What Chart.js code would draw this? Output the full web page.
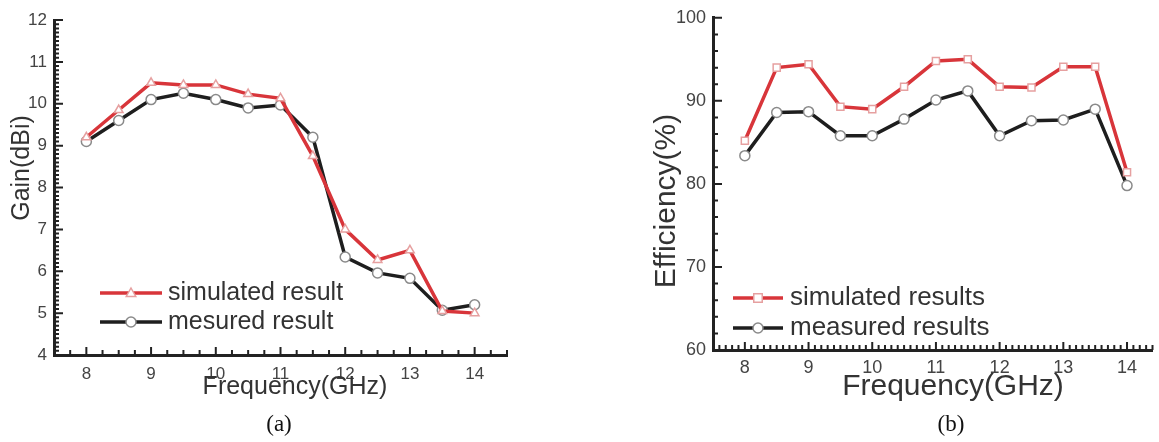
<!DOCTYPE html>
<html>
<head>
<meta charset="utf-8">
<script src="https://cdn.jsdelivr.net/npm/chart.js@4.4.0/dist/chart.umd.min.js"></script>
<style>
  html, body { margin: 0; padding: 0; background: #fff; }
  #wrap { position: relative; width: 1159px; height: 442px; overflow: hidden; }
  canvas { position: absolute; top: 0; }
  #chartA { left: 0; }
  #chartB { left: 600px; }
  .cap { position: absolute; top: 410px; line-height: 28px; font-family: "Liberation Serif", "Times New Roman", serif;
         font-size: 23px; color: #111; transform: translateX(-50%); }
</style>
</head>
<body>
<div id="wrap">
  <canvas id="chartA" width="560" height="442"></canvas>
  <canvas id="chartB" width="559" height="442"></canvas>
  <div class="cap" style="left:279px">(a)</div>
  <div class="cap" style="left:951px">(b)</div>
</div>
<script>
// frequency points (GHz), shared by both plots
var freq = [8, 8.5, 9, 9.5, 10, 10.5, 11, 11.5, 12, 12.5, 13, 13.5, 14];
var freqTicks = [8, 9, 10, 11, 12, 13, 14];

// (a) gain, dBi
var gainSimulated = [9.2, 9.85, 10.5, 10.45, 10.45, 10.23, 10.13, 8.75, 7.0, 6.27, 6.5, 5.05, 5.0];
var gainMeasured  = [9.1, 9.6, 10.1, 10.25, 10.1, 9.9, 9.97, 9.2, 6.34, 5.96, 5.83, 5.07, 5.2];
var gainTicks = [4, 5, 6, 7, 8, 9, 10, 11, 12];

// (b) efficiency, %
var effSimulated = [85.2, 94.0, 94.4, 89.3, 89.0, 91.7, 94.8, 95.0, 91.7, 91.6, 94.1, 94.1, 81.4];
var effMeasured  = [83.4, 88.6, 88.7, 85.8, 85.8, 87.8, 90.1, 91.2, 85.8, 87.6, 87.7, 89.0, 79.8];
var effTicks = [60, 70, 80, 90, 100];

var FONT = "'Liberation Sans', Arial, sans-serif";
var AXIS = '#222';
var RED = '#d8353a';
var BLACK = '#1e1e1e';

function pairs(xs, ys) {
  return xs.map(function (x, i) { return { x: x, y: ys[i] }; });
}

function marker(ctx, style, x, y, r) {
  ctx.beginPath();
  if (style === 'triangle') {
    ctx.moveTo(x, y - r);
    ctx.lineTo(x + r * 0.95, y + r * 0.7);
    ctx.lineTo(x - r * 0.95, y + r * 0.7);
    ctx.closePath();
  } else if (style === 'rect') {
    ctx.rect(x - r * 0.85, y - r * 0.85, r * 1.7, r * 1.7);
  } else {
    ctx.arc(x, y, r, 0, Math.PI * 2);
  }
  ctx.fill();
  ctx.stroke();
}

function steps(min, max, step, fn) {
  var start = Math.ceil(min / step - 1e-6);
  var end = Math.floor(max / step + 1e-6);
  for (var k = start; k <= end; k++) fn(k * step);
}

// inward ticks, in-plot legend and axis titles
var decor = {
  id: 'decor',
  afterDraw: function (chart) {
    var o = chart.options.plugins.decor;
    var ctx = chart.ctx, area = chart.chartArea;
    var xs = chart.scales.x, ys = chart.scales.y;
    ctx.save();

    ctx.strokeStyle = AXIS;
    ctx.lineWidth = 2;
    ctx.beginPath();
    steps(xs.min, xs.max, o.xMinor, function (v) {
      var major = Math.abs(v / o.xMajor - Math.round(v / o.xMajor)) < 1e-6;
      var px = xs.getPixelForValue(v);
      ctx.moveTo(px, area.bottom);
      ctx.lineTo(px, area.bottom - (major ? 8 : 5));
    });
    steps(ys.min, ys.max, o.yMinor, function (v) {
      var major = Math.abs(v / o.yMajor - Math.round(v / o.yMajor)) < 1e-6;
      var py = ys.getPixelForValue(v);
      ctx.moveTo(area.left, py);
      ctx.lineTo(area.left + (major ? 9 : 5), py);
    });
    ctx.stroke();

    // legend
    var lg = o.legend;
    ctx.font = lg.size + 'px ' + FONT;
    ctx.textBaseline = 'middle';
    ctx.textAlign = 'left';
    chart.data.datasets.forEach(function (ds, i) {
      var y = lg.rows[i];
      ctx.strokeStyle = ds.borderColor;
      ctx.lineWidth = ds.borderWidth;
      ctx.beginPath();
      ctx.moveTo(lg.x, y);
      ctx.lineTo(lg.x + lg.w, y);
      ctx.stroke();
      ctx.fillStyle = '#fff';
      ctx.strokeStyle = ds.pointBorderColor;
      ctx.lineWidth = 1.5;
      marker(ctx, ds.pointStyle, lg.x + lg.w / 2, y, 5);
      ctx.fillStyle = '#333';
      ctx.fillText(ds.label, lg.textX, y);
    });

    // axis titles
    ctx.fillStyle = '#333';
    ctx.textAlign = 'center';
    ctx.textBaseline = 'middle';
    ctx.font = o.xTitle.size + 'px ' + FONT;
    ctx.fillText(o.xTitle.text, o.xTitle.x, o.xTitle.y);
    ctx.translate(o.yTitle.x, o.yTitle.y);
    ctx.rotate(-Math.PI / 2);
    ctx.font = o.yTitle.size + 'px ' + FONT;
    ctx.fillText(o.yTitle.text, 0, 0);
    ctx.restore();
  }
};

function makeChart(id, cfg) {
  var ds = cfg.series.map(function (s) {
    return {
      label: s.label,
      data: pairs(freq, s.values),
      borderColor: s.color,
      borderWidth: 3.5,
      backgroundColor: '#fff',
      pointBackgroundColor: '#fff',
      pointBorderColor: s.pointColor,
      pointBorderWidth: 1.5,
      pointRadius: 5,
      pointStyle: s.pointStyle,
      tension: 0
    };
  });
  return new Chart(document.getElementById(id), {
    type: 'line',
    data: { datasets: ds },
    plugins: [decor],
    options: {
      responsive: false,
      animation: false,
      layout: { padding: cfg.padding },
      scales: {
        x: {
          type: 'linear',
          min: cfg.xMin, max: cfg.xMax,
          afterBuildTicks: function (s) { s.ticks = freqTicks.map(function (v) { return { value: v }; }); },
          afterFit: function (s) { s.height = cfg.xHeight; },
          grid: { display: false, drawTicks: false },
          border: { display: true, color: AXIS, width: 3 },
          ticks: { padding: cfg.xPad, color: '#444', font: { family: FONT, size: cfg.tickSize }, maxRotation: 0 }
        },
        y: {
          min: cfg.yTicks[0], max: cfg.yTicks[cfg.yTicks.length - 1],
          afterBuildTicks: function (s) { s.ticks = cfg.yTicks.map(function (v) { return { value: v }; }); },
          afterFit: function (s) { s.width = cfg.yWidth; },
          grid: { display: false, drawTicks: false },
          border: { display: true, color: AXIS, width: 3 },
          ticks: { padding: 7, color: '#444', font: { family: FONT, size: cfg.tickSize } }
        }
      },
      plugins: {
        legend: { display: false },
        tooltip: { enabled: false },
        decor: cfg.decor
      }
    }
  });
}

makeChart('chartA', {
  series: [
    { label: 'simulated result', values: gainSimulated, color: RED, pointColor: '#e6a0a0', pointStyle: 'triangle' },
    { label: 'mesured result', values: gainMeasured, color: BLACK, pointColor: '#8a8a8a', pointStyle: 'circle' }
  ],
  yTicks: gainTicks,
  xMin: 7.5, xMax: 14.5,
  padding: { top: 20, right: 53, left: 0, bottom: 0 },
  xHeight: 87, yWidth: 54, xPad: 9, tickSize: 17,
  decor: {
    xMajor: 1, xMinor: 0.25, yMajor: 1, yMinor: 0.1,
    legend: { x: 100, w: 62, textX: 168, rows: [293, 322], size: 25 },
    xTitle: { text: 'Frequency(GHz)', x: 295, y: 387, size: 25 },
    yTitle: { text: 'Gain(dBi)', x: 22, y: 168, size: 25 }
  }
});

makeChart('chartB', {
  series: [
    { label: 'simulated results', values: effSimulated, color: RED, pointColor: '#e6a0a0', pointStyle: 'rect' },
    { label: 'measured results', values: effMeasured, color: BLACK, pointColor: '#8a8a8a', pointStyle: 'circle' }
  ],
  yTicks: effTicks,
  xMin: 7.5, xMax: 14.4,
  padding: { top: 17, right: 0, left: 0, bottom: 0 },
  xHeight: 92, yWidth: 113, xPad: 7, tickSize: 18,
  decor: {
    xMajor: 1, xMinor: 0.1, yMajor: 10, yMinor: 2,
    legend: { x: 133, w: 50, textX: 190, rows: [298, 328], size: 26 },
    xTitle: { text: 'Frequency(GHz)', x: 353, y: 387, size: 30 },
    yTitle: { text: 'Efficiency(%)', x: 67, y: 201, size: 30 }
  }
});
</script>
</body>
</html>
